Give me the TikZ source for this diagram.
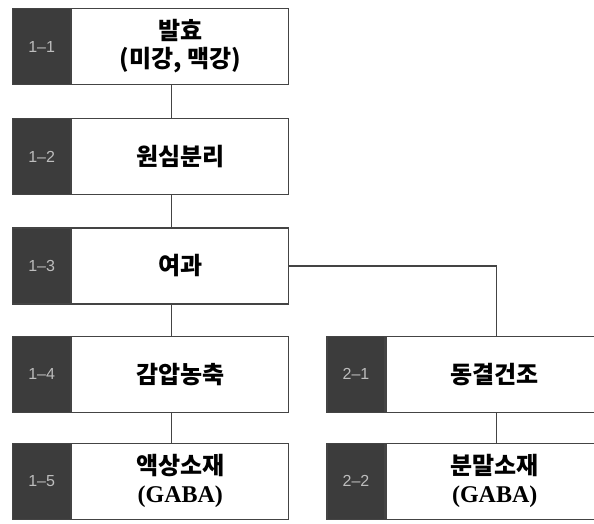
\documentclass[tikz,border=0pt]{standalone}
\usepackage{fontspec}
\setmainfont{Liberation Serif}
\newfontfamily\krfont{Noto Sans CJK KR}
\newfontfamily\tagfont{Liberation Sans}
\usetikzlibrary{positioning}
\definecolor{linec}{HTML}{444444}
\definecolor{tagc}{HTML}{3C3C3C}
\definecolor{tagtext}{HTML}{BDBDBD}

\begin{document}
\begin{tikzpicture}[x=1pt, y=-1pt,
  tag/.style={draw=linec, fill=tagc, text=tagtext, line width=1.2pt,
    minimum width=58pt, minimum height=76pt, inner sep=0pt,
    font=\tagfont\fontsize{16}{18}\selectfont},
  box/.style={draw=linec, fill=white, line width=1.2pt, align=center,
    minimum width=217pt, minimum height=76pt, inner sep=0pt,
    font=\krfont\bfseries\fontsize{24}{28}\selectfont},
  link/.style={draw=linec, line width=1.2pt}
]
\useasboundingbox (0,0) rectangle (594,524);
\node[tag, anchor=north west] (t11) at (12,8) {1\textendash1};
\node[box, right=0pt of t11] (b11) {발효\\(미강, 맥강)};
\node[tag, below=33pt of t11] (t12) {1\textendash2};
\node[box, right=0pt of t12] (b12) {원심분리};
\node[tag, below=32pt of t12] (t13) {1\textendash3};
\node[box, right=0pt of t13] (b13) {여과};
\node[tag, below=31pt of t13] (t14) {1\textendash4};
\node[box, right=0pt of t14] (b14) {감압농축};
\node[tag, below=30pt of t14] (t15) {1\textendash5};
\node[box, right=0pt of t15] (b15) {액상소재\\{\rmfamily\bfseries (GABA)}};
\node[tag, right=37pt of b14] (t21) {2\textendash1};
\node[box, right=0pt of t21] (b21) {동결건조};
\node[tag, right=37pt of b15] (t22) {2\textendash2};
\node[box, right=0pt of t22] (b22) {분말소재\\{\rmfamily\bfseries (GABA)}};
\draw[link] ([xshift=-8.5pt]b11.south) -- ([xshift=-8.5pt]b12.north);
\draw[link] ([xshift=-8.5pt]b12.south) -- ([xshift=-8.5pt]b13.north);
\draw[link] ([xshift=-8.5pt]b13.south) -- ([xshift=-8.5pt]b14.north);
\draw[link] ([xshift=-8.5pt]b14.south) -- ([xshift=-8.5pt]b15.north);
\draw[link] (b13.east) -| ([xshift=2pt]b21.north);
\draw[link] ([xshift=2pt]b21.south) -- ([xshift=2pt]b22.north);
\end{tikzpicture}
\end{document}
